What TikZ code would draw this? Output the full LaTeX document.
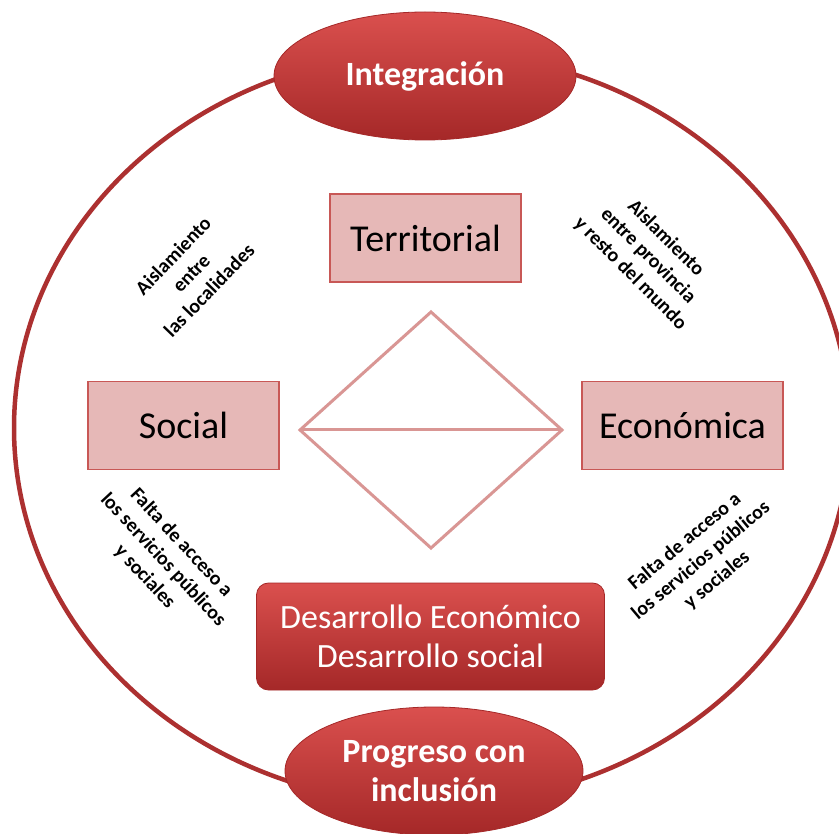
\documentclass[tikz,border=0pt]{standalone}
\usepackage{fontspec}
\setmainfont{Carlito}
\usetikzlibrary{shapes.geometric}
\definecolor{ringred}{RGB}{172,48,48}
\definecolor{boxpink}{RGB}{230,184,183}
\definecolor{boxedge}{RGB}{200,88,86}
\definecolor{diam}{RGB}{217,150,148}
\definecolor{redtop}{RGB}{218,80,78}
\definecolor{redbot}{RGB}{165,40,40}
\tikzset{
  pinkbox/.style={draw=boxedge, line width=1.5pt, fill=boxpink, minimum height=88pt, inner sep=0pt, font=\fontsize{38}{45}\selectfont},
  redoval/.style={ellipse, draw=redbot, line width=0.8pt, top color=redtop, bottom color=redbot, minimum width=300pt, minimum height=128pt, inner sep=0pt, text=white, font=\bfseries\fontsize{34}{39}\selectfont, align=center},
  redbox/.style={rounded corners=12pt, draw=redbot, line width=0.8pt, top color=redtop, bottom color=redbot, minimum width=348pt, minimum height=107pt, inner sep=0pt, text=white, font=\fontsize{34}{39}\selectfont, align=center},
  note/.style={align=center, font=\bfseries\fontsize{20}{25}\selectfont, inner sep=0pt},
  diamline/.style={draw=diam, line width=3pt, line join=miter}
}
\begin{document}
\begin{tikzpicture}[x=1pt,y=-1pt]
\useasboundingbox (0,0) rectangle (839,834);
\clip (0,0) rectangle (839,834);
\fill[white] (0,0) rectangle (839,834);
% ring
\draw[ringred, line width=4.5pt] (432,428) ellipse [x radius=418pt, y radius=376pt];
% diamond
\coordinate (dt) at (431,312);
\coordinate (dr) at (562,430);
\coordinate (db) at (431,548);
\coordinate (dl) at (300,430);
\draw[diamline] (dt) -- (dr) -- (db) -- (dl) -- cycle;
\draw[diamline] (dl) -- (dr);
% boxes
\node[pinkbox, minimum width=191pt] (terr) at (425.5,238) {Territorial};
\node[pinkbox, minimum width=191pt] (soc) at (183.5,425.5) {Social};
\node[pinkbox, minimum width=201pt] (eco) at (682.5,425.5) {Económica};
\node[redbox] (des) at (430.5,636.5) {Desarrollo Económico\\Desarrollo social};
% ovals
\node[redoval, minimum width=302pt] (integ) at (425,76) {Integración};
\node[redoval, minimum width=298pt] (prog) at (434,771) {Progreso con\\inclusión};
% notes
\node[note, rotate=46] (n1) at (191,273) {Aislamiento\\entre\\las localidades};
\node[note, rotate=-45] (n2) at (648,256) {Aislamiento\\entre provincia\\y resto del mundo};
\node[note, rotate=-47] (n3) at (163,560) {Falta de acceso a\\los servicios públicos\\y sociales};
\node[note, rotate=40] (n4) at (701,561) {Falta de acceso a\\los servicios públicos\\y sociales};
\end{tikzpicture}
\end{document}
